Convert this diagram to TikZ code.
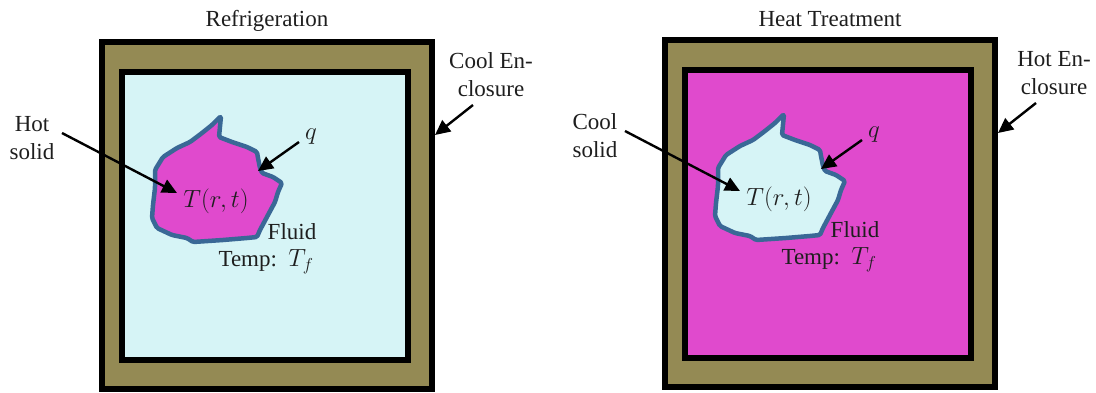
\documentclass[tikz,border=0pt]{standalone}
\usepackage{fontspec}
\setmainfont{Liberation Serif}
\usetikzlibrary{arrows.meta}
\definecolor{olivebox}{RGB}{148,138,84}
\definecolor{fluidcyan}{RGB}{214,244,246}
\definecolor{hotmag}{RGB}{224,74,205}
\definecolor{blobedge}{RGB}{58,104,150}
\definecolor{txtcol}{RGB}{30,30,30}
\tikzset{
  boxline/.style={draw=black, line width=6pt},
  blobline/.style={draw=blobedge, line width=4.5pt, line join=round, rounded corners=1.5pt},
  lbl/.style={text=txtcol, font=\fontsize{23}{28}\selectfont, inner sep=1pt},
  arr/.style={draw=black, line width=2.4pt, -{Triangle[length=15pt,width=14pt]}},
}
\newcommand\drawpanel[8]{%
\begin{scope}[shift={(#2,#3)}]
  \draw[boxline, fill=olivebox] (102,42) rectangle (432,389);
  \draw[boxline, fill=#4] (122,72) rectangle (408,360);
  \draw[blobline, fill=#5] (221,116) -- (219,137) -- (232,142) -- (247,147) -- (257,152)
     -- (258,158) -- (260,168) -- (262,173) -- (273,177) -- (282,183) -- (278,192)
     -- (275,202) -- (268,215) -- (260,230) -- (257,237) -- (247,238) -- (223,240)
     -- (193,242) -- (187,238) -- (172,235) -- (157,228) -- (152,218) -- (153,205)
     -- (155,188) -- (155,170) -- (163,157) -- (177,148) -- (190,142) -- (202,133)
     -- (212,125) -- cycle;
  \node[lbl] (#1title) at (267,21) {#6};
  \node[lbl, align=center] (#1solid) at (32,138) {#7\\solid};
  \node[lbl, align=center] (#1encl) at (491,75) {#8 En-\\closure};
  \node[lbl] (#1T) at (216,201) {$T(r,t)$};
  \node[lbl] (#1q) at (311,137) {$q$};
  \node[lbl] (#1fluid) at (292,232) {Fluid};
  \node[lbl] (#1temp) at (266,262) {Temp:\ \ $T_f$};
  \coordinate (#1sa) at (62,133);
  \coordinate (#1sb) at (177,193);
  \coordinate (#1qa) at (299,142);
  \coordinate (#1qb) at (258,171);
  \coordinate (#1ea) at (473,105);
  \coordinate (#1eb) at (435,135);
  \draw[arr] (#1sa) -- (#1sb);
  \draw[arr] (#1qa) -- (#1qb);
  \draw[arr] (#1ea) -- (#1eb);
\end{scope}}
\begin{document}
\begin{tikzpicture}[x=1pt,y=-1pt]
  \useasboundingbox (0,0) rectangle (1096,392);
  \fill[white] (0,0) rectangle (1096,392);
  \drawpanel{L}{0}{0}{fluidcyan}{hotmag}{Refrigeration}{Hot}{Cool}
  \drawpanel{R}{563}{-2}{hotmag}{fluidcyan}{Heat Treatment}{Cool}{Hot}
\end{tikzpicture}
\end{document}
